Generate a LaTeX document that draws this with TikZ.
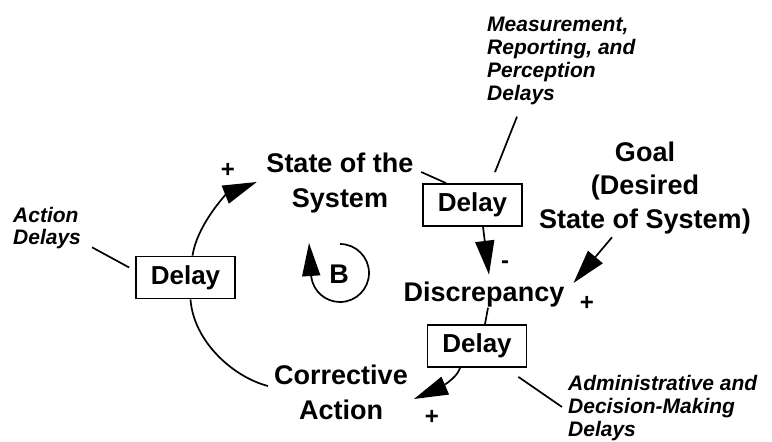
\documentclass[tikz,border=0pt]{standalone}
\usepackage{fontspec}
\setmainfont{Liberation Sans}
\usetikzlibrary{arrows.meta,calc}
\begin{document}
\begin{tikzpicture}[x=1pt,y=-1pt,
  txt/.style={font=\bfseries\fontsize{27}{35}\selectfont, inner sep=0pt, align=center},
  lab/.style={font=\bfseries\itshape\fontsize{21}{22.7}\selectfont, inner sep=0pt, align=left, anchor=west},
  dbox/.style={draw, line width=1.7pt, font=\bfseries\fontsize{26}{30}\selectfont, minimum width=99pt, minimum height=42pt, inner sep=0pt},
  conn/.style={line width=1.7pt},
  arr/.style={line width=1.7pt, -{Triangle[length=34pt,width=19pt]}},
  sign/.style={font=\bfseries\fontsize{24}{24}\selectfont, inner sep=0pt}]
\useasboundingbox (0,0) rectangle (772,442);
% nodes
\node[txt] (state) at (340,183) {State of the\\System};
\node[txt] (corr) at (341,392) {Corrective\\Action};
\node[txt] (disc) at (484,295) {Discrepancy};
\node[txt, font=\bfseries\fontsize{27}{33.5}\selectfont] (goal) at (645,188) {Goal\\(Desired\\State of System)};
\node[dbox] (d1) at (185.5,277.5) {Delay};
\node[dbox] (d2) at (472.5,205) {Delay};
\node[dbox] (d3) at (477,346) {Delay};
\node[lab] (act) at (13,228) {Action\\Delays};
\node[lab] (meas) at (487,61) {Measurement,\\Reporting, and\\Perception\\Delays};
\node[lab] (admin) at (568,408) {Administrative and\\Decision-Making\\Delays};
\node[sign] (p1) at (228,170) {+};
\node[sign] (p2) at (587,303) {+};
\node[sign] (p3) at (432,417) {+};
\node[sign] (m1) at (505,265) {-};
\node[txt] (bl) at (339,274) {B};
% connectors
\draw[arr] ($(d1.north)+(7,0)$) .. controls +(5,-32) and +(-30,12) .. ($(state.west)+(-9.5,-1)$);
\draw[conn] ($(d1.south)+(5,0)$) .. controls +(3,42) and +(-35,-9) .. ($(corr.west)+(-6,-6)$);
\draw[conn] ($(state.east)+(7.5,-11)$) -- ($(d2.north west)+(24,0)$);
\draw[conn] ($(meas.south west)+(30,12)$) -- ($(d2.north)+(22.5,-11)$);
\draw[arr] ($(d2.south)+(10.5,0)$) -- ($(disc.north)+(5,-7.5)$);
\draw[arr] ($(goal.south)+(-33,3)$) -- ($(disc.east)+(9,-12)$);
\draw[conn] ($(disc.south)+(4,0)$) -- ($(d3.north)+(8,0)$);
\draw[arr] ($(d3.south)+(-17,0)$) .. controls +(-4,14) and +(14,-6) .. ($(corr.east)+(6,7)$);
\draw[conn] ($(d3.south east)+(-9,9)$) -- ($(admin.west)+(-6,-1)$);
\draw[conn] ($(act.south east)+(11,-2)$) -- ($(d1.west)+(-6,-10)$);
\draw[line width=1.7pt, -{Triangle[length=33pt,width=18pt]}] ($(bl)+(1,-30)$) arc[start angle=-90, end angle=172, radius=29] -- ($(bl)+(-30,-31)$);
\end{tikzpicture}
\end{document}
